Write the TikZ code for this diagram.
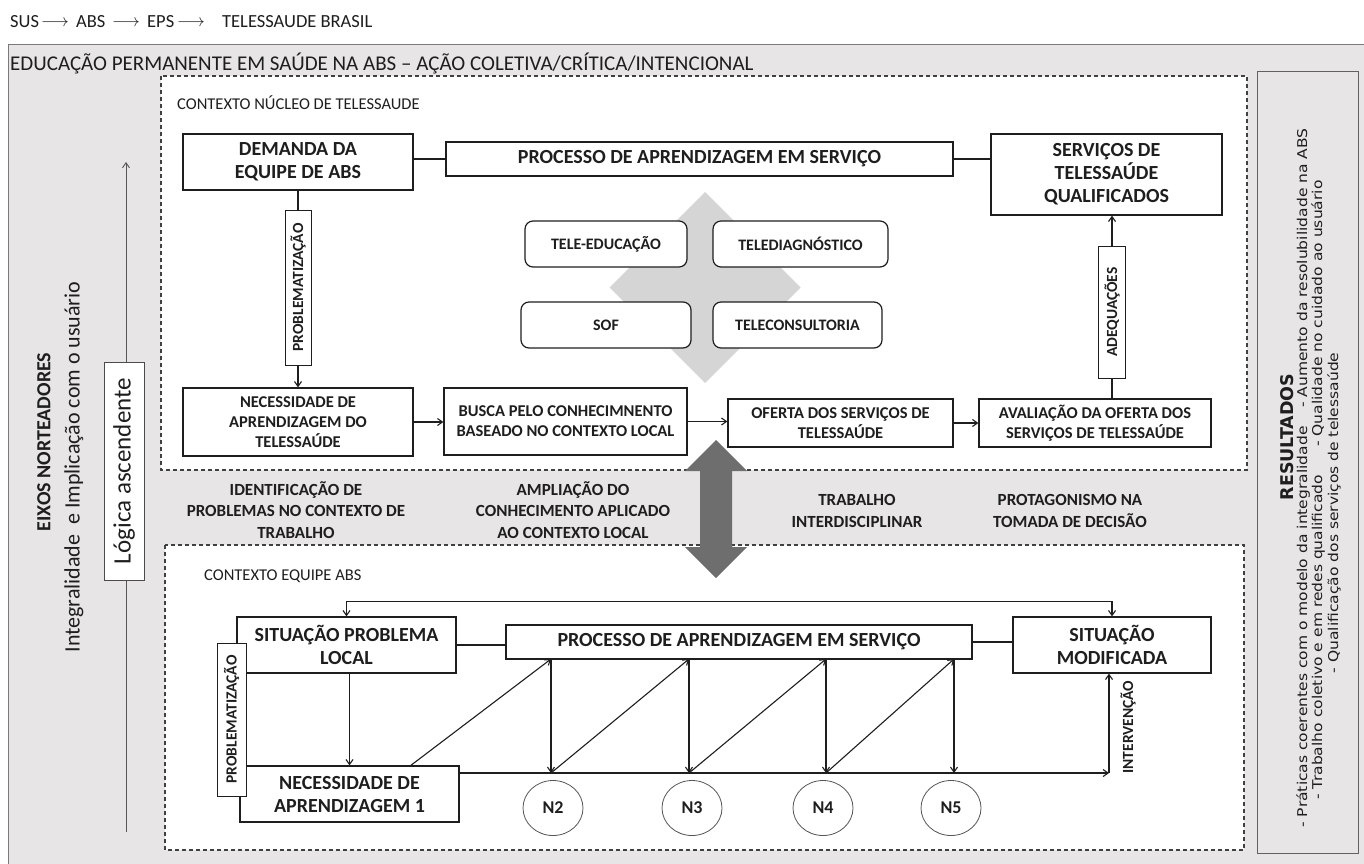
\documentclass[tikz,border=0pt]{standalone}
\usepackage{fontspec}
\setmainfont{Carlito}
\newfontfamily\dvs{DejaVu Sans}
\usetikzlibrary{arrows.meta,shapes.geometric}
\definecolor{bggray}{HTML}{E7E5E5}
\definecolor{framegray}{HTML}{7A7A7A}
\definecolor{diag}{HTML}{D5D5D5}
\definecolor{darkarrow}{HTML}{6E6E6E}
\definecolor{ink}{HTML}{1E1E1E}
\newcommand{\fs}[2]{\fontsize{#1}{#2}\selectfont}
\newcommand{\strt}[1]{\scalebox{1.15}[1]{#1}}
\begin{document}
\begin{tikzpicture}[x=1pt,y=-1pt,
  every node/.style={text=ink, inner sep=0pt},
  bx/.style={draw=ink, line width=1.2pt, fill=white, align=center},
  rbx/.style={bx, rounded corners=8pt},
  lbl/.style={draw=ink, line width=1pt, fill=white, rotate=90, font=\bfseries\fs{15.5}{17}},
  bigt/.style={font=\bfseries\fs{20}{23}},
  smt/.style={font=\bfseries\fs{16.5}{20}},
  rndt/.style={font=\bfseries\fs{16}{19}},
  bandt/.style={font=\bfseries\fs{17}{21.5}, align=center},
  conn/.style={draw=ink, line width=1.1pt},
  arr/.style={conn, -{Straight Barb[length=5pt,width=7pt]}},
  dashbox/.style={draw=ink!85, line width=1.1pt, dash pattern=on 4pt off 3pt, fill=white},
  nd/.style={draw=ink!75, line width=0.8pt, ellipse, fill=white, minimum width=60pt, minimum height=55pt, font=\bfseries\fs{18}{20}},
  hdr/.style={font=\fs{18.5}{22}},
  restxt/.style={rotate=90, font=\dvs\fs{13.5}{16}}
]
\useasboundingbox (0,0) rectangle (1364,863);
\fill[white] (0,0) rectangle (1364,863);
% outer frame
\draw[fill=bggray, draw=framegray, line width=1pt] (8,44) rectangle (1390,890);
% header
\node[hdr, anchor=west] (h1) at (10,22) {SUS};
\node[hdr] (a1) at (55,23) {$\longrightarrow$};
\node[hdr, anchor=west] (h2) at (76,22) {ABS};
\node[hdr] (a2) at (126,23) {$\longrightarrow$};
\node[hdr, anchor=west] (h3) at (147,22) {EPS};
\node[hdr] (a3) at (191,23) {$\longrightarrow$};
\node[hdr, anchor=west] (h4) at (222,22) {TELESSAUDE BRASIL};
% title
\node[font=\fs{21}{24}, anchor=west] (title) at (10,63) {EDUCAÇÃO PERMANENTE EM SAÚDE NA ABS – AÇÃO COLETIVA/CRÍTICA/INTENCIONAL};
% results box
\draw[fill=bggray, draw=ink!70, line width=1pt] (1257,71) rectangle (1358,853);
\node[rotate=90, font=\dvs\bfseries\fs{17.5}{20}] (res) at (1287,437) {RESULTADOS};
\node[restxt] (r1) at (1303,478) {\strt{- Práticas coerentes com o modelo da integralidade\hspace{1.2em}- Aumento da resolubilidade na ABS}};
\node[restxt] (r2) at (1318,490) {\strt{- Trabalho coletivo e em redes qualificado\hspace{1.8em}- Qualidade no cuidado ao usuário}};
\node[restxt] (r3) at (1334,513) {\strt{- Qualificação dos serviços de telessaúde}};
% left column
\coordinate (axb) at (126,832);
\coordinate (axt) at (126,162);
\draw[draw=ink!75, line width=0.9pt, -{Straight Barb[length=5pt,width=7pt]}] (axb) -- (axt);
\node[draw=ink!80, line width=1pt, fill=white, rotate=90, minimum width=218pt, minimum height=40pt, font=\fs{25}{28}] (logica) at (124,471) {Lógica ascendente};
\node[rotate=90, font=\bfseries\fs{20}{23}] (eixos) at (44,442) {EIXOS NORTEADORES};
\node[rotate=90, font=\fs{22}{25}] (integ) at (74,467) {Integralidade\ \ e Implicação com o usuário};
% dashed contexts
\draw[dashbox] (161,76) rectangle (1247,470);
\draw[dashbox] (165,545) rectangle (1244,850);
\node[font=\fs{16.5}{19}, anchor=west] (ctx1) at (177,103) {CONTEXTO NÚCLEO DE TELESSAUDE};
\node[font=\fs{16.5}{19}, anchor=west] (ctx2) at (204,576) {CONTEXTO EQUIPE ABS};
% diamond
\fill[diag] (705,192) -- (800.5,287.5) -- (705,383) -- (609.5,287.5) -- cycle;
% upper nodes
\node[bx, bigt, minimum width=230pt, minimum height=56pt] (dem) at (298,162) {DEMANDA DA\\EQUIPE DE ABS};
\node[bx, bigt, minimum width=507pt, minimum height=34pt] (proc1) at (699.5,159) {PROCESSO DE APRENDIZAGEM EM SERVIÇO};
\node[bx, bigt, minimum width=231pt, minimum height=81pt] (serv) at (1106.5,174.5) {SERVIÇOS DE\\TELESSAÚDE\\QUALIFICADOS};
\node[rbx, rndt, minimum width=162pt, minimum height=46pt] (tele) at (606,244) {TELE-EDUCAÇÃO};
\node[rbx, rndt, minimum width=175pt, minimum height=46pt] (tdiag) at (800.5,244) {TELEDIAGNÓSTICO};
\node[rbx, rndt, minimum width=170pt, minimum height=46pt] (sof) at (606,325) {SOF};
\node[rbx, rndt, minimum width=169pt, minimum height=46pt] (tcons) at (797.5,325) {TELECONSULTORIA};
\node[bx, smt, minimum width=230pt, minimum height=68pt] (nec1) at (298,422) {NECESSIDADE DE\\APRENDIZAGEM DO\\TELESSAÚDE};
\node[bx, smt, minimum width=243pt, minimum height=67pt] (busca) at (565.5,421.5) {BUSCA PELO CONHECIMNENTO\\BASEADO NO CONTEXTO LOCAL};
\node[bx, smt, minimum width=225pt, minimum height=48pt] (ofer) at (840.5,423) {OFERTA DOS SERVIÇOS DE\\TELESSAÚDE};
\node[bx, smt, minimum width=232pt, minimum height=48pt] (aval) at (1095,423) {AVALIAÇÃO DA OFERTA DOS\\SERVIÇOS DE TELESSAÚDE};
\node[lbl, minimum width=155pt, minimum height=26pt] (prob1) at (298,287.5) {PROBLEMATIZAÇÃO};
\node[lbl, minimum width=132pt, minimum height=27pt] (adeq) at (1112,312) {ADEQUAÇÕES};
% upper connectors
\draw[conn] (proc1.west) -- (proc1.west -| dem.east);
\draw[conn] (proc1.east) -- (proc1.east -| serv.west);
\draw[conn] (dem.south) -- (prob1.east);
\draw[arr] (prob1.west) -- (nec1.north);
\draw[arr] (nec1.east) -- (nec1.east -| busca.west);
\draw[arr] (busca.east) -- (busca.east -| ofer.west);
\draw[arr] (ofer.east) -- (aval.west);
\draw[conn] (adeq.west) -- (adeq.west |- aval.north);
\draw[arr] (adeq.east) -- (adeq.east |- serv.south);
% band texts
\node[bandt] (band1) at (296,510) {IDENTIFICAÇÃO DE\\PROBLEMAS NO CONTEXTO DE\\TRABALHO};
\node[bandt] (band2) at (573,510) {AMPLIAÇÃO DO\\CONHECIMENTO APLICADO\\AO CONTEXTO LOCAL};
\node[bandt] (band3) at (857,511) {TRABALHO\\INTERDISCIPLINAR};
\node[bandt] (band4) at (1070,511) {PROTAGONISMO NA\\TOMADA DE DECISÃO};
% double arrow
\fill[darkarrow] (716,440) -- (747,471) -- (732,471) -- (732,547) -- (747,547) -- (716,578) -- (685,547) -- (700,547) -- (700,471) -- (685,471) -- cycle;
% lower nodes
\node[bx, bigt, minimum width=219pt, minimum height=56pt] (sit) at (346.5,645) {SITUAÇÃO PROBLEMA\\LOCAL};
\node[bx, bigt, minimum width=466pt, minimum height=34pt] (proc2) at (739,642) {PROCESSO DE APRENDIZAGEM EM SERVIÇO};
\node[bx, bigt, minimum width=198pt, minimum height=56pt] (mod) at (1112,645) {SITUAÇÃO\\MODIFICADA};
\node[bx, bigt, minimum width=219pt, minimum height=56pt] (need) at (349.5,794) {NECESSIDADE DE\\APRENDIZAGEM 1};
\node[lbl, minimum width=153pt, minimum height=29pt] (prob2) at (231.5,719.5) {PROBLEMATIZAÇÃO};
\node[nd] (n2) at (553,808) {N2};
\node[nd] (n3) at (692,808) {N3};
\node[nd] (n4) at (823,808) {N4};
\node[nd] (n5) at (951,808) {N5};
\node[rotate=90, font=\bfseries\fs{15.5}{17}] (interv) at (1128,727) {INTERVENÇÃO};
% lower connectors
\coordinate (t1) at (551,659); \coordinate (t2) at (689,659);
\coordinate (t3) at (826,659); \coordinate (t4) at (954,659);
\coordinate (b1) at (551,773); \coordinate (b2) at (689,773);
\coordinate (b3) at (826,773); \coordinate (b4) at (954,773);
\coordinate (bs) at (459,773); \coordinate (be) at (1109,773);
\coordinate (d0) at (410,766);
\draw[conn, {Straight Barb[length=5pt,width=7pt]}-{Straight Barb[length=5pt,width=7pt]}] (sit.north) -- ++(0,-15) -| (mod.north);
\draw[conn] (sit.east) -- (sit.east -| proc2.west);
\draw[conn] (proc2.east) -- (proc2.east -| mod.west);
\draw[arr] (sit.south -| need.north) -- (need.north);
\draw[arr] (bs) -- (be);
\draw[arr] (be) -- (be |- mod.south);
\draw[arr] (d0) -- (t1);
\draw[arr] (t1) -- (b1);
\draw[arr] (b1) -- (t2);
\draw[arr] (t2) -- (b2);
\draw[arr] (b2) -- (t3);
\draw[arr] (t3) -- (b3);
\draw[arr] (b3) -- (t4);
\draw[arr] (t4) -- (b4);
\end{tikzpicture}
\end{document}
